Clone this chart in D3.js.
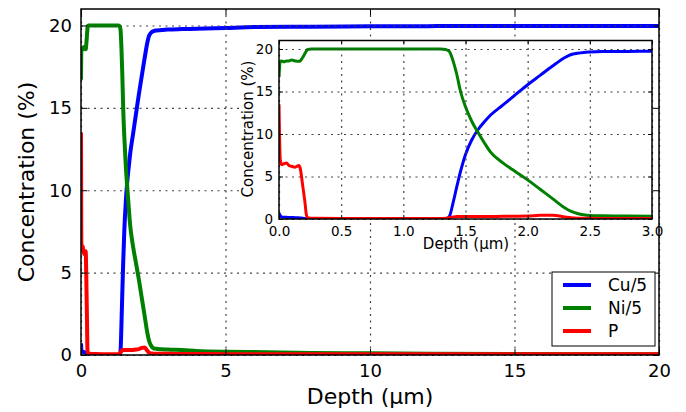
<!DOCTYPE html>
<html>
<head>
<meta charset="utf-8">
<script src="https://cdn.jsdelivr.net/npm/d3@7"></script>
<style>
  body { margin: 0; background: #fff; }
  text { font-family: "DejaVu Sans", sans-serif; fill: #000; }
</style>
</head>
<body>
<svg id="chart" width="686" height="412"></svg>
<script>
// depth in µm, concentrations in %
const depth = [0, 0.01, 0.02, 0.04, 0.06, 0.08, 0.10, 0.13, 0.16, 0.17, 0.19, 0.21, 0.22, 0.23, 0.26, 0.3, 0.5, 1.0, 1.3, 1.34,
    1.37, 1.4, 1.43, 1.46, 1.5, 1.55, 1.6, 1.65, 1.7, 1.8, 1.9, 2.0, 2.1, 2.2, 2.3, 2.35, 2.4, 2.45, 2.5, 2.6,
    2.8, 3.0, 3.5, 4, 5, 6, 8, 10, 12, 15, 20];
const cu5 = [0.7, 0.4, 0.25, 0.2, 0.2, 0.18, 0.18, 0.15, 0.15, 0.12, 0.1, 0.05, 0.03, 0.02, 0, 0, 0, 0, 0, 0,
    0.3, 1.9, 3.8, 5.6, 7.6, 9.3, 10.5, 11.4, 12.2, 13.4, 14.6, 15.8, 16.9, 18.0, 19.0, 19.35, 19.5, 19.6, 19.65, 19.7,
    19.72, 19.75, 19.78, 19.8, 19.85, 19.9, 19.93, 19.95, 19.96, 19.97, 19.97];
const ni5 = [16.7, 18.5, 18.6, 18.5, 18.6, 18.6, 18.7, 18.6, 18.55, 18.6, 19.0, 19.5, 19.75, 19.95, 20.0, 20, 20, 20, 20, 19.95,
    19.7, 18.6, 17.0, 15.0, 13.2, 11.5, 10.2, 9.0, 7.9, 6.6, 5.6, 4.6, 3.5, 2.4, 1.3, 0.9, 0.65, 0.5, 0.42, 0.38,
    0.35, 0.33, 0.3, 0.25, 0.2, 0.18, 0.12, 0.1, 0.08, 0.06, 0.05];
const pConc = [13.5, 7.0, 6.4, 6.5, 6.6, 6.3, 6.2, 6.1, 6.3, 6.0, 4.0, 1.8, 0.5, 0.15, 0.1, 0.08, 0.06, 0.05, 0.05, 0.08,
    0.15, 0.25, 0.28, 0.3, 0.3, 0.3, 0.3, 0.3, 0.3, 0.31, 0.33, 0.36, 0.43, 0.45, 0.25, 0.15, 0.1, 0.09, 0.08, 0.07,
    0.07, 0.07, 0.06, 0.06, 0.05, 0.05, 0.05, 0.04, 0.04, 0.04, 0.04];

const seriesNames = ["Cu/5", "Ni/5", "P"];
const seriesColors = ["#0000ff", "#008000", "#ff0000"];
const seriesValues = [cu5, ni5, pConc];

const mainXTicks = [0, 5, 10, 15, 20];
const mainYTicks = [0, 5, 10, 15, 20];
const insetXTicks = [0, 0.5, 1.0, 1.5, 2.0, 2.5, 3.0];
const insetYTicks = [0, 5, 10, 15, 20];

const series = seriesNames.map((name, k) => ({name: name, color: seriesColors[k], values: seriesValues[k]}));

const svg = d3.select("#chart");

const mainBox = {left: 81, right: 659, top: 9, bottom: 355};
const insetBox = {left: 279, right: 652, top: 40.5, bottom: 219};

function makeScales(box, xDomain) {
    const x = d3.scaleLinear().domain(xDomain).range([box.left, box.right]);
    const y = d3.scaleLinear().domain([0, 21]).range([box.bottom, box.top]);
    return {x, y};
}

function drawLines(g, box, s, width, id) {
    g.append("clipPath").attr("id", id)
        .append("rect")
        .attr("x", box.left).attr("y", box.top)
        .attr("width", box.right - box.left).attr("height", box.bottom - box.top);

    const line = d3.line()
        .x((d, i) => s.x(depth[i]))
        .y(d => s.y(d))
        .curve(d3.curveMonotoneX);

    g.append("g").attr("clip-path", `url(#${id})`)
        .selectAll("path")
        .data(series)
        .join("path")
        .attr("fill", "none")
        .attr("stroke", d => d.color)
        .attr("stroke-width", width)
        .attr("stroke-linejoin", "round")
        .attr("d", d => line(d.values));
}

function drawGrid(g, box, s, xTicks, yTicks) {
    const gx = g.append("g")
        .attr("transform", `translate(0,${box.bottom})`)
        .call(d3.axisBottom(s.x).tickValues(xTicks).tickSize(-(box.bottom - box.top)).tickFormat(""));
    const gy = g.append("g")
        .attr("transform", `translate(${box.left},0)`)
        .call(d3.axisLeft(s.y).tickValues(yTicks).tickSize(-(box.right - box.left)).tickFormat(""));
    [gx, gy].forEach(a => {
        a.select(".domain").remove();
        a.selectAll(".tick line")
            .style("stroke", "#444")
            .style("stroke-width", "1.2px")
            .style("stroke-dasharray", "2,4.5");
    });
}

function drawFrame(g, box, s, xTicks, yTicks, o) {
    const bottom = g.append("g")
        .attr("transform", `translate(0,${box.bottom})`)
        .call(d3.axisBottom(s.x).tickValues(xTicks).tickSizeInner(-o.tick).tickSizeOuter(0)
            .tickPadding(o.padX).tickFormat(o.fmtX));
    const left = g.append("g")
        .attr("transform", `translate(${box.left},0)`)
        .call(d3.axisLeft(s.y).tickValues(yTicks).tickSizeInner(-o.tick).tickSizeOuter(0)
            .tickPadding(o.padY).tickFormat(d3.format("d")));
    const top = g.append("g")
        .attr("transform", `translate(0,${box.top})`)
        .call(d3.axisTop(s.x).tickValues(xTicks).tickSizeInner(-o.tick).tickSizeOuter(0).tickFormat(""));
    const right = g.append("g")
        .attr("transform", `translate(${box.right},0)`)
        .call(d3.axisRight(s.y).tickValues(yTicks).tickSizeInner(-o.tick).tickSizeOuter(0).tickFormat(""));

    [bottom, left, top, right].forEach(a => {
        a.select(".domain").remove();
        a.attr("font-family", null).attr("font-size", o.fontSize);
        a.selectAll(".tick line").attr("stroke", "#000").attr("stroke-width", 1);
        a.selectAll(".tick text").style("font-size", o.fontSize + "px");
    });

    g.append("rect")
        .attr("x", box.left).attr("y", box.top)
        .attr("width", box.right - box.left).attr("height", box.bottom - box.top)
        .attr("fill", "none")
        .attr("stroke", "#000")
        .attr("stroke-width", o.spine);
}

// main panel
const mainScales = makeScales(mainBox, [0, 20]);
const mainG = svg.append("g");
drawLines(mainG, mainBox, mainScales, 4, "clip-main");
drawGrid(mainG, mainBox, mainScales, mainXTicks, mainYTicks);

// white patch behind the inset
svg.append("rect")
    .attr("x", 240).attr("y", 37)
    .attr("width", mainBox.right - 240).attr("height", 222 - 37)
    .attr("fill", "#fff");

drawFrame(svg.append("g"), mainBox, mainScales, mainXTicks, mainYTicks,
    {tick: 6, padX: 9, padY: 9, fontSize: 18, spine: 1.5, fmtX: d3.format("d")});

svg.append("text")
    .attr("x", 370).attr("y", 404)
    .attr("text-anchor", "middle")
    .style("font-size", "22px")
    .text("Depth (µm)");

svg.append("text")
    .attr("transform", "translate(34,182) rotate(-90)")
    .attr("text-anchor", "middle")
    .style("font-size", "22px")
    .text("Concentration (%)");

// inset panel
const insetScales = makeScales(insetBox, [0, 3]);
const insetG = svg.append("g");
drawLines(insetG, insetBox, insetScales, 3, "clip-inset");
drawGrid(insetG, insetBox, insetScales, insetXTicks, insetYTicks);
drawFrame(insetG, insetBox, insetScales, insetXTicks, insetYTicks,
    {tick: 4, padX: 7, padY: 6, fontSize: 13.5, spine: 1.5, fmtX: d3.format(".1f")});

insetG.append("text")
    .attr("x", 466).attr("y", 249)
    .attr("text-anchor", "middle")
    .style("font-size", "15px")
    .text("Depth (µm)");

insetG.append("text")
    .attr("transform", "translate(253,129) rotate(-90)")
    .attr("text-anchor", "middle")
    .style("font-size", "15px")
    .text("Concentration (%)");

// legend
const legend = svg.append("g");
legend.append("rect")
    .attr("x", 552).attr("y", 272)
    .attr("width", 103).attr("height", 74)
    .attr("fill", "#fff")
    .attr("stroke", "#000")
    .attr("stroke-width", 1);

const entry = legend.selectAll("g.entry")
    .data(series)
    .join("g")
    .attr("class", "entry")
    .attr("transform", (d, i) => `translate(0,${285 + i * 23})`);
entry.append("line")
    .attr("x1", 563).attr("x2", 591)
    .attr("stroke", d => d.color)
    .attr("stroke-width", 4);
entry.append("text")
    .attr("x", 608).attr("dy", "0.35em")
    .style("font-size", "17px")
    .text(d => d.name);
</script>
</body>
</html>
